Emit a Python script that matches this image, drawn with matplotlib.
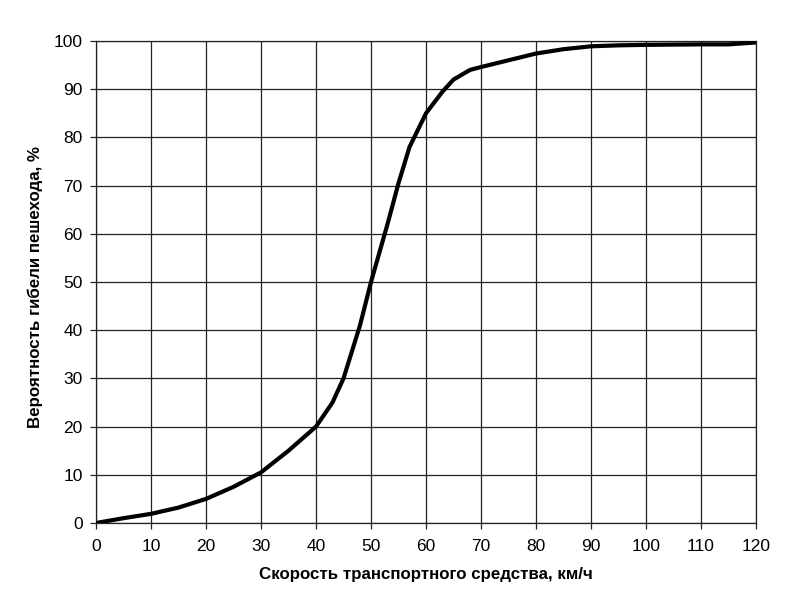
import numpy as np
import matplotlib
matplotlib.use('Agg')
import matplotlib.pyplot as plt

# speed, km/h and probability of pedestrian death, %
speed = [0, 5, 10, 15, 20, 25, 30, 35, 40, 43, 45, 48, 50, 53, 55, 57,
         60, 63, 65, 68, 70, 75, 80, 85, 90, 95, 100, 110, 115, 120]
death = [0, 1.0, 1.9, 3.2, 5.0, 7.5, 10.5, 15.0, 20.0, 25.0, 30.0, 41.0,
         50.0, 62.0, 70.5, 78.0, 85.0, 89.5, 92.0, 94.0, 94.6, 96.0, 97.4,
         98.3, 98.9, 99.1, 99.2, 99.3, 99.3, 99.7]

xticks = list(range(0, 121, 10))
yticks = list(range(0, 101, 10))

plt.rcParams['font.family'] = ['Liberation Sans', 'DejaVu Sans']

fig = plt.figure(figsize=(7.92, 5.89), dpi=100)
ax = fig.add_axes([96/792, 1-523/589, 660/792, 482/589])

ax.plot(speed, death, color='black', linewidth=3, solid_capstyle='round', zorder=3)

ax.set_xlim(0, 120)
ax.set_ylim(0, 100)
ax.set_xticks(xticks)
ax.set_yticks(yticks)
ax.grid(True, color='#222222', linewidth=0.9)
for s in ax.spines.values():
    s.set_color('#222222')
    s.set_linewidth(0.9)
ax.tick_params(direction='out', length=4.5, width=0.9, color='#222222', labelsize=12.5)
ax.tick_params(axis='x', pad=7)
ax.tick_params(axis='y', pad=5)

ax.set_xlabel('Скорость транспортного средства, км/ч', fontsize=12.2, fontweight='bold')
ax.set_ylabel('Вероятность гибели пешехода, %', fontsize=12.2, fontweight='bold')
ax.xaxis.set_label_coords(0.5, -0.092)
ax.yaxis.set_label_coords(-0.08, 0.49)

fig.savefig('out.png', dpi=100)
